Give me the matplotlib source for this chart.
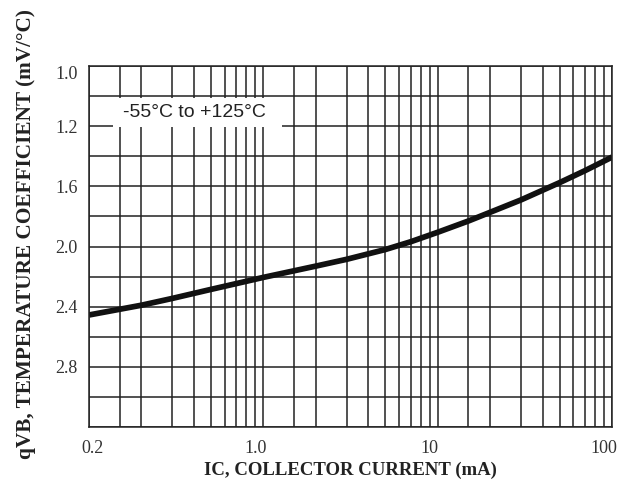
from matplotlib import pyplot as plt
from matplotlib.patches import Rectangle
from matplotlib.ticker import FixedLocator, NullFormatter
import matplotlib.transforms as mtransforms
import numpy as np

# curve
ic_ma = [0.1, 0.2, 0.3, 0.5, 1.0, 2.0, 3.0, 5.0, 7.0, 10, 15, 20, 30, 50, 70, 100]
temp_coef = [2.455, 2.39, 2.345, 2.285, 2.205, 2.13, 2.085, 2.02, 1.968, 1.905, 1.83, 1.772, 1.69, 1.575, 1.495, 1.405]

x_ticks = [0.1, 1, 10, 100]
x_tick_labels = ['0.2', '1.0', '10', '100']
y_ticks = [0.8, 1.2, 1.6, 2.0, 2.4, 2.8]
y_tick_labels = ['1.0', '1.2', '1.6', '2.0', '2.4', '2.8']
y_grid = np.arange(0.8, 3.21, 0.2)
x_grid = []
for dec in [0.1, 1, 10]:
    for m in [1, 1.5, 2, 3, 4, 5, 6, 7, 8, 9]:
        x_grid.append(dec * m)

fig = plt.figure(figsize=(6.24, 4.82), dpi=100)
ax = fig.add_axes([0.1426, 0.114, 0.981 - 0.1426, 0.863 - 0.114])

ax.set_xscale('log')
ax.set_xlim(0.1, 100)
ax.set_ylim(3.2, 0.8)

ax.set_xticks(x_ticks)
ax.set_xticklabels(x_tick_labels)
ax.xaxis.set_minor_locator(FixedLocator(x_grid))
ax.xaxis.set_minor_formatter(NullFormatter())
ax.set_yticks(y_ticks)
ax.set_yticklabels(y_tick_labels)
ax.yaxis.set_minor_locator(FixedLocator(y_grid))

ax.tick_params(which='both', length=0)
ax.tick_params(axis='x', pad=9)
ax.tick_params(axis='y', pad=8)
for lab in ax.get_xticklabels() + ax.get_yticklabels():
    lab.set_fontfamily('Liberation Serif')
    lab.set_fontsize(13)
    lab.set_color('#333333')

def shift(lab, dx, dy):
    lab.set_transform(lab.get_transform() + mtransforms.ScaledTranslation(dx / 100, dy / 100, fig.dpi_scale_trans))

# datasheet labels sit a bit off their lines
xl = ax.get_xticklabels()
shift(xl[0], 4, 0)
for lab in xl[1:]:
    shift(lab, -8, 0)
shift(ax.get_yticklabels()[0], 0, -6)

ax.set_axisbelow(True)
ax.grid(which='both', color='#222222', linewidth=1.1)
for sp in ax.spines.values():
    sp.set_color('#222222')
    sp.set_linewidth(1.1)

# white label box cutting the grid
ax.add_patch(Rectangle((0.137, 1.012), 1.28 - 0.137, 0.195, facecolor='white', edgecolor='none', zorder=1))
ax.text(0.405, 1.11, '-55°C to +125°C', fontsize=14, family='Liberation Sans', color='#222222',
        ha='center', va='center', zorder=3)

ax.plot(ic_ma, temp_coef, color='#111111', linewidth=4.1, solid_capstyle='butt', solid_joinstyle='round', zorder=2)

ax.set_xlabel('IC, COLLECTOR CURRENT (mA)', fontsize=13.5, fontweight='bold', family='Liberation Serif',
              color='#222222', labelpad=4)
ax.set_ylabel('qVB, TEMPERATURE COEFFICIENT (mV/°C)', fontsize=15.3, fontweight='bold', family='Liberation Serif',
              color='#222222')
ax.yaxis.set_label_coords(-0.101, 0.535)

plt.savefig('out.png', dpi=100)
